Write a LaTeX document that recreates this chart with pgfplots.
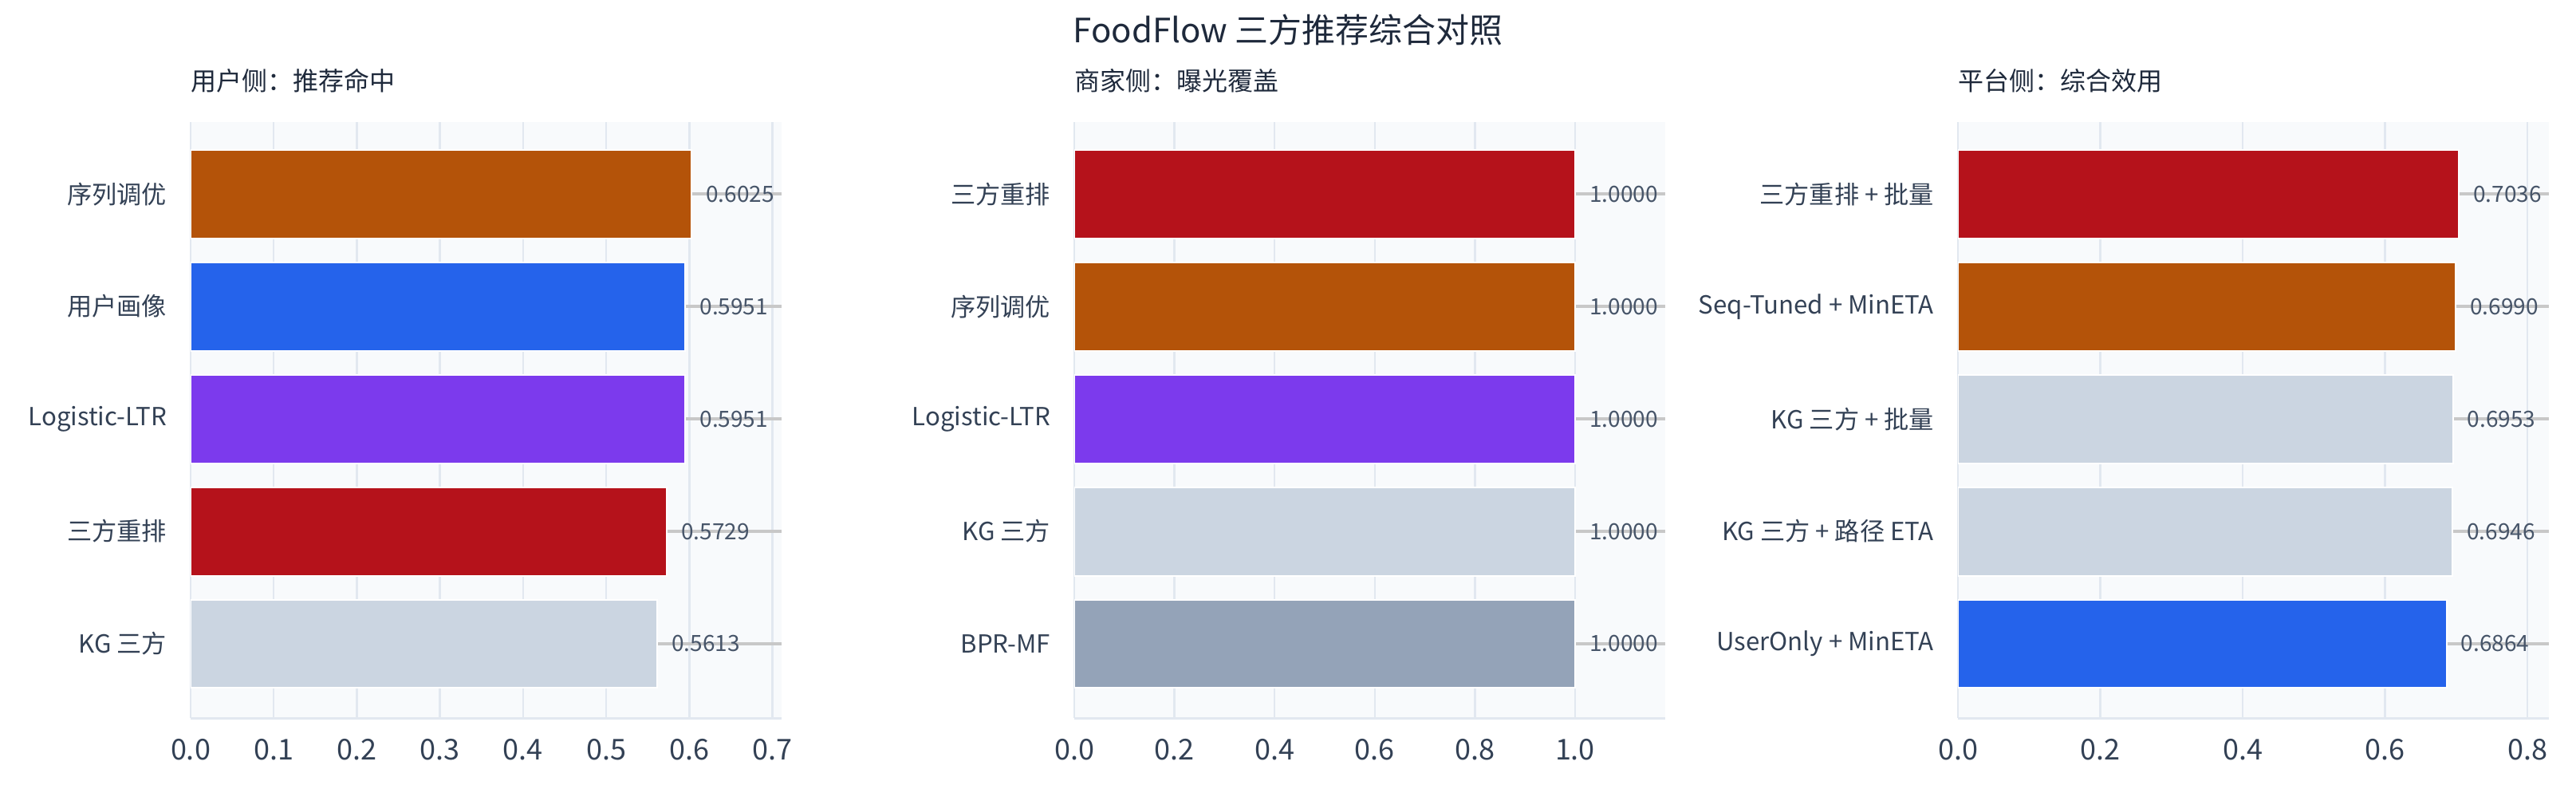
\documentclass[border=0pt]{standalone}
\usepackage{fontspec}
\setmainfont{Noto Sans CJK SC}
\usepackage{pgfplots}
\pgfplotsset{compat=1.18}

\definecolor{ttl}{HTML}{1E293B}
\definecolor{txt}{HTML}{334155}
\definecolor{vtxt}{HTML}{475569}
\definecolor{bgc}{HTML}{F8FAFC}
\definecolor{gridc}{HTML}{E2E8F0}
\definecolor{guidec}{HTML}{C8C8C8}
\definecolor{corange}{HTML}{B45309}
\definecolor{cblue}{HTML}{2563EB}
\definecolor{cpurple}{HTML}{7C3AED}
\definecolor{cred}{HTML}{B5121B}
\definecolor{clight}{HTML}{CBD5E1}
\definecolor{cslate}{HTML}{94A3B8}

\pgfplotsset{
  panel/.style={
    scale only axis, width=185.25pt, height=186.75pt,
    anchor=south west,
    xmin=0, ymin=-0.66, ymax=4.64,
    axis background/.style={fill=bgc},
    xmajorgrids, major grid style={draw=gridc, line width=0.6pt},
    axis x line*=bottom, axis y line*=left,
    x axis line style={draw=gridc, line width=0.75pt},
    y axis line style={draw=none},
    major tick length=0pt,
    ytick={0,1,2,3,4},
    yticklabel style={font=\fontsize{7.8}{9}\selectfont, text=txt, xshift=-4pt},
    xticklabel style={font=\fontsize{9}{10}\selectfont, text=txt, yshift=-3pt},
    x tick label style={/pgf/number format/.cd, fixed, fixed zerofill, precision=1, assume math mode=true},
    title style={at={(0,1)}, anchor=west, yshift=7pt, inner sep=0pt,
      font=\fontsize{8}{10}\selectfont, text=ttl},
  },
  barp/.style={
    xbar, bar shift=0pt, bar width=0.787, fill=#1, draw=white, line width=0.5pt,
    point meta=x,
    nodes near coords={\pgfmathprintnumber[fixed, fixed zerofill, precision=4, assume math mode=true]{\pgfplotspointmeta}},
    nodes near coords align={horizontal},
    every node near coord/.append style={font=\fontsize{7}{8}\selectfont, text=vtxt, anchor=west, xshift=1pt},
  },
  guide/.style={draw=guidec, line width=0.9pt, no markers, forget plot},
}

\begin{document}
\begin{tikzpicture}
\path[use as bounding box] (0,0) rectangle (807.5pt,247pt);
\node[font=\fontsize{10.5}{12}\selectfont, text=ttl] at (403.75pt,237.5pt) {FoodFlow 三方推荐综合对照};

% 用户侧
\begin{axis}[panel, at={(59.75pt,22pt)}, xmax=0.711,
  xtick={0,0.1,0.2,0.3,0.4,0.5,0.6,0.7},
  yticklabels={KG 三方, 三方重排, Logistic-LTR, 用户画像, 序列调优},
  title={用户侧：推荐命中}]
\addplot[guide] coordinates {(0.6025,4) (0.711,4)};
\addplot[guide] coordinates {(0.5951,3) (0.711,3)};
\addplot[guide] coordinates {(0.5951,2) (0.711,2)};
\addplot[guide] coordinates {(0.5729,1) (0.711,1)};
\addplot[guide] coordinates {(0.5613,0) (0.711,0)};
\addplot[barp=corange] coordinates {(0.6025,4)};
\addplot[barp=cblue] coordinates {(0.5951,3)};
\addplot[barp=cpurple] coordinates {(0.5951,2)};
\addplot[barp=cred] coordinates {(0.5729,1)};
\addplot[barp=clight] coordinates {(0.5613,0)};
\end{axis}

% 商家侧
\begin{axis}[panel, at={(336.75pt,22pt)}, xmax=1.18,
  xtick={0,0.2,0.4,0.6,0.8,1.0},
  yticklabels={BPR-MF, KG 三方, Logistic-LTR, 序列调优, 三方重排},
  title={商家侧：曝光覆盖}]
\addplot[guide] coordinates {(1.0,4) (1.18,4)};
\addplot[guide] coordinates {(1.0,3) (1.18,3)};
\addplot[guide] coordinates {(1.0,2) (1.18,2)};
\addplot[guide] coordinates {(1.0,1) (1.18,1)};
\addplot[guide] coordinates {(1.0,0) (1.18,0)};
\addplot[barp=cred] coordinates {(1.0,4)};
\addplot[barp=corange] coordinates {(1.0,3)};
\addplot[barp=cpurple] coordinates {(1.0,2)};
\addplot[barp=clight] coordinates {(1.0,1)};
\addplot[barp=cslate] coordinates {(1.0,0)};
\end{axis}

% 平台侧
\begin{axis}[panel, at={(613.75pt,22pt)}, xmax=0.8303,
  xtick={0,0.2,0.4,0.6,0.8},
  yticklabels={UserOnly + MinETA, KG 三方 + 路径 ETA, KG 三方 + 批量, Seq-Tuned + MinETA, 三方重排 + 批量},
  title={平台侧：综合效用}]
\addplot[guide] coordinates {(0.7036,4) (0.8303,4)};
\addplot[guide] coordinates {(0.6990,3) (0.8303,3)};
\addplot[guide] coordinates {(0.6953,2) (0.8303,2)};
\addplot[guide] coordinates {(0.6946,1) (0.8303,1)};
\addplot[guide] coordinates {(0.6864,0) (0.8303,0)};
\addplot[barp=cred] coordinates {(0.7036,4)};
\addplot[barp=corange] coordinates {(0.6990,3)};
\addplot[barp=clight] coordinates {(0.6953,2)};
\addplot[barp=clight] coordinates {(0.6946,1)};
\addplot[barp=cblue] coordinates {(0.6864,0)};
\end{axis}
\end{tikzpicture}
\end{document}
